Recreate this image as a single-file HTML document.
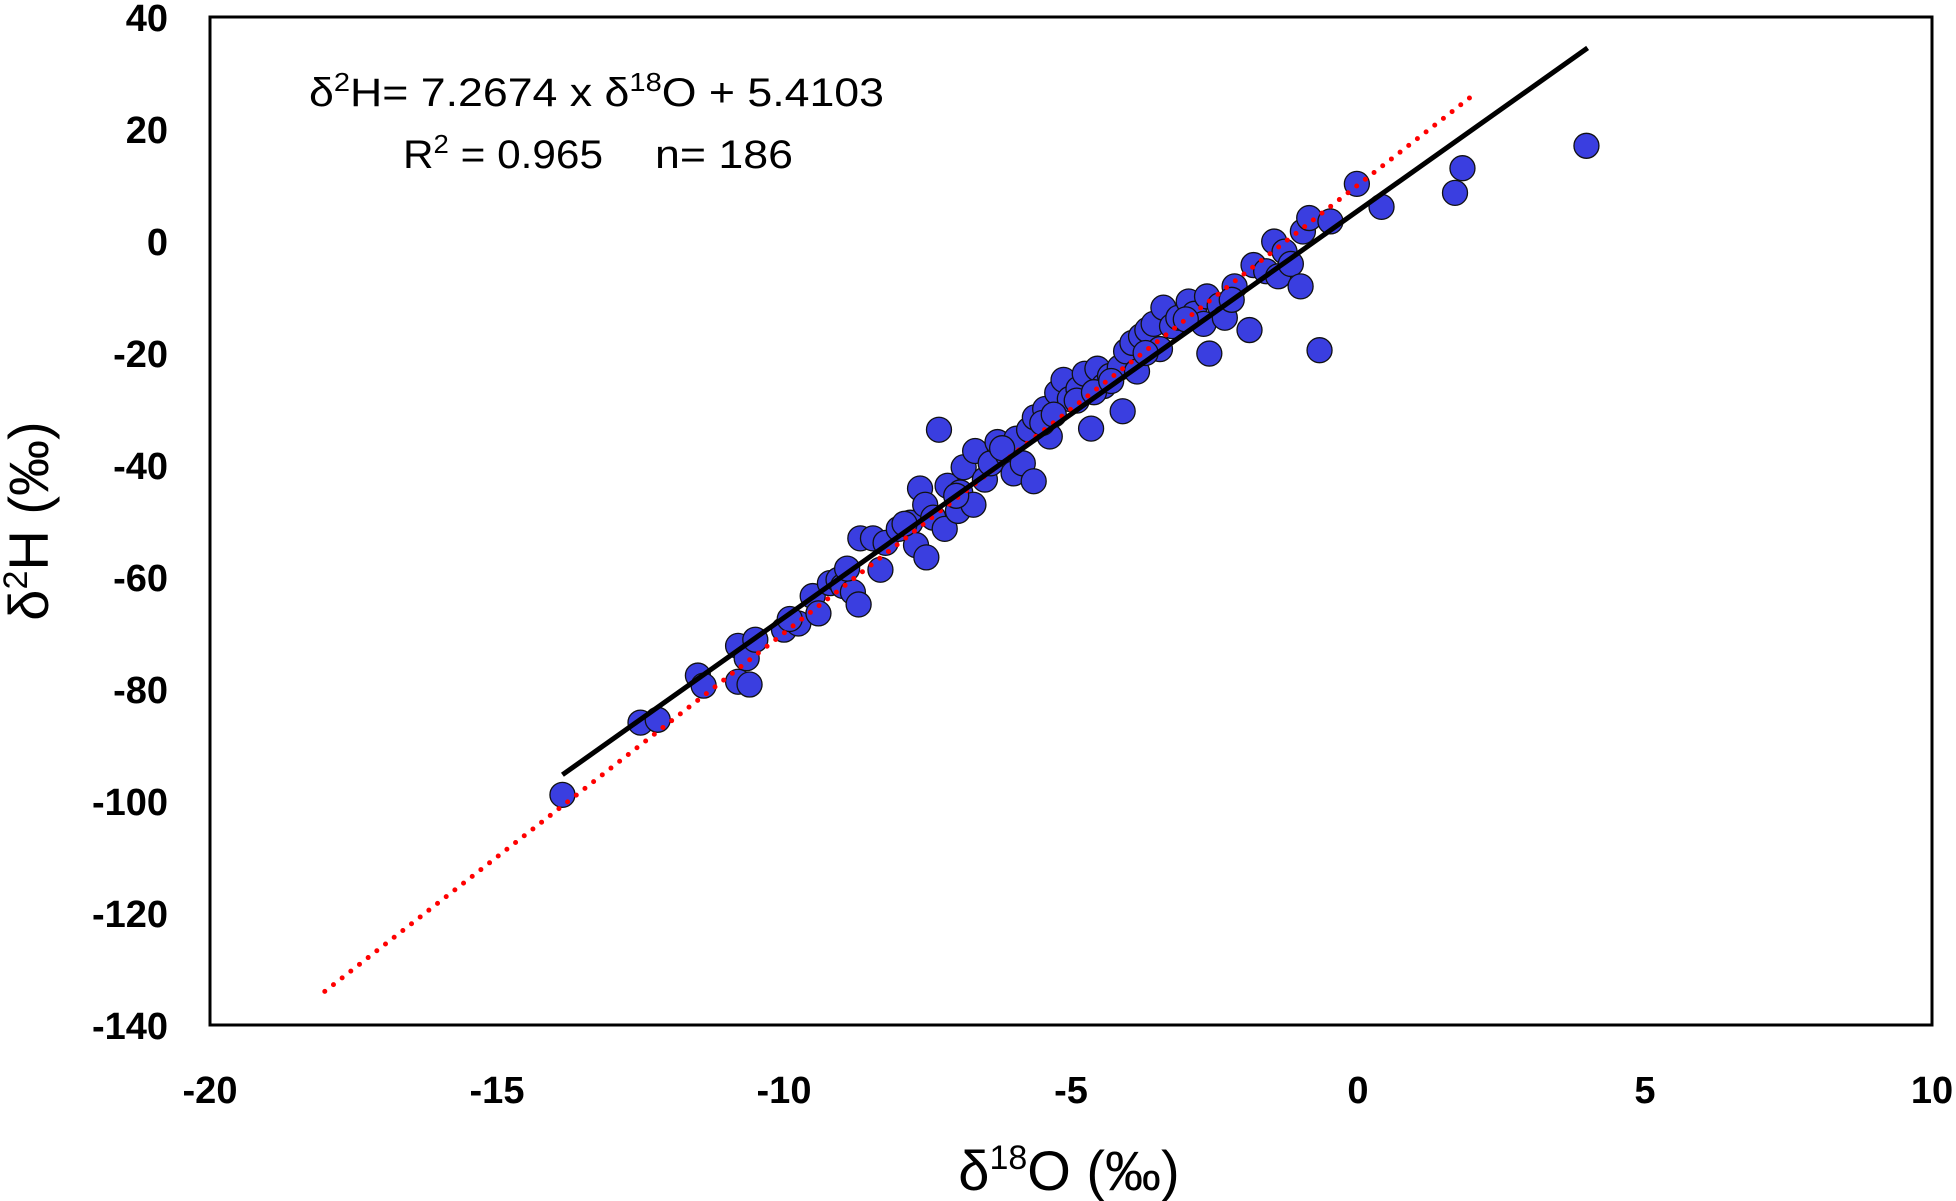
<!DOCTYPE html>
<html><head><meta charset="utf-8"><style>
html,body{margin:0;padding:0;background:#fff;}
svg{display:block;font-family:"Liberation Sans",sans-serif;}
</style></head><body>
<svg id="chart" width="1956" height="1201" viewBox="0 0 1956 1201" xmlns="http://www.w3.org/2000/svg">
<rect x="210" y="17" width="1722" height="1008" fill="#fff" stroke="#000" stroke-width="3"/>
<g id="ticks"></g>
<g id="lines"></g>
<g id="points"></g>
<text x="309" y="106" font-size="40" textLength="575" lengthAdjust="spacingAndGlyphs">δ<tspan font-size="26" dy="-15">2</tspan><tspan dy="15">H= 7.2674 x δ</tspan><tspan font-size="26" dy="-15">18</tspan><tspan dy="15">O + 5.4103</tspan></text>
<text x="403" y="168" font-size="40" textLength="200" lengthAdjust="spacingAndGlyphs">R<tspan font-size="26" dy="-15">2</tspan><tspan dy="15"> = 0.965</tspan></text>
<text x="655" y="168" font-size="40" textLength="138" lengthAdjust="spacingAndGlyphs">n= 186</text>
<text x="1069" y="1190" font-size="56" text-anchor="middle">δ<tspan font-size="34" dy="-21">18</tspan><tspan dy="21">O (‰)</tspan></text>
<text transform="translate(48,521) rotate(-90)" font-size="56" text-anchor="middle">δ<tspan font-size="34" dy="-21">2</tspan><tspan dy="21">H (‰)</tspan></text>
</svg>
<script>
const xTicks=[-20,-15,-10,-5,0,5,10];
const yTicks=[40,20,0,-20,-40,-60,-80,-100,-120,-140];
const d18O=[-13.86,-12.5,-12.2,-11.5,-11.4,-10.8,-10.8,-10.6,-10.65,-10.5,-10.0,-9.75,-9.5,-9.4,-9.2,-9.05,-8.97,-8.8,-8.7,-8.67,-8.45,-8.32,-8.23,-8.0,-7.8,-7.7,-7.63,-7.52,-7.54,-7.4,-7.3,-7.2,-7.15,-6.93,-6.87,-6.97,-6.7,-6.67,-6.5,-6.4,-6.28,-6.1,-6.0,-5.95,-5.84,-5.73,-5.65,-5.63,-5.45,-5.37,-5.24,-5.13,-5.02,-4.87,-4.76,-4.65,-4.54,-4.43,-4.32,-4.15,-4.1,-4.04,-3.93,-3.85,-3.78,-3.67,-3.56,-3.45,-3.39,-3.24,-3.13,-2.95,-2.85,-2.69,-2.63,-2.59,-2.41,-2.32,-2.15,-1.89,-1.82,-1.6,-1.46,-1.39,-1.28,-1.17,-1.0,-0.96,-0.85,-0.67,-0.48,-0.02,0.41,1.69,1.82,3.98,-9.9,-8.9,-7.9,-7.0,-6.2,-5.5,-5.3,-4.9,-4.6,-4.3,-3.7,-3.0,-2.2];
const d2H=[-98.9,-86,-85.5,-77.6,-79.4,-72.3,-78.7,-79.2,-74.5,-71.2,-69.4,-68.3,-63.4,-66.5,-61.1,-60.5,-61.6,-62.7,-64.9,-53.1,-53.1,-58.7,-53.9,-51.4,-50.3,-54.3,-44.2,-56.5,-47.1,-49.4,-33.7,-51.4,-43.7,-44.9,-40.4,-48.2,-47.1,-37.5,-42.6,-39.7,-35.9,-38.2,-41.5,-35.3,-39.7,-33.7,-42.9,-31.5,-30.0,-34.9,-27.1,-24.8,-28.2,-26.4,-23.7,-33.5,-22.8,-25.9,-24.1,-22.6,-30.4,-19.7,-18.2,-23.3,-17.0,-15.9,-14.8,-19.3,-11.9,-15.2,-13.7,-10.8,-13.0,-14.8,-9.9,-20.1,-11.5,-13.7,-8.1,-15.9,-4.3,-5.4,-0.1,-6.3,-1.9,-4.1,-8.1,1.7,4.1,-19.5,3.5,10.2,6.1,8.6,13.0,17.0,-67.5,-58.5,-50.5,-45.5,-37.0,-32.5,-31.0,-28.5,-27.0,-25.0,-20.0,-14.0,-10.5];
const regSlope=7.2674, regIntercept=5.4103, regRange=[-13.86,4.0];
const gmwlSlope=8, gmwlIntercept=10, gmwlRange=[-18,2];
const X0=210,X1=1932,Y0=1025,Y1=17;
const sx=v=>X0+(v+20)/30*(X1-X0);
const sy=v=>Y0-(v+140)/180*(Y0-Y1);
const NS="http://www.w3.org/2000/svg";
function mk(tag,attrs,parent){const e=document.createElementNS(NS,tag);for(const k in attrs)e.setAttribute(k,attrs[k]);parent.appendChild(e);return e;}
const tg=document.getElementById('ticks');
xTicks.forEach(t=>{const e=mk('text',{x:sx(t),y:1103,'font-size':38,'font-weight':'bold','text-anchor':'middle'},tg);e.textContent=t;

});
yTicks.forEach(t=>{const e=mk('text',{x:168,y:sy(t)+14,'font-size':38,'font-weight':'bold','text-anchor':'end'},tg);e.textContent=t;

});
const lg=document.getElementById('lines');
const gm=mk('line',{x1:sx(gmwlRange[0]),y1:sy(gmwlSlope*gmwlRange[0]+gmwlIntercept),x2:sx(gmwlRange[1]),y2:sy(gmwlSlope*gmwlRange[1]+gmwlIntercept),stroke:'#ff0000','stroke-width':5,'stroke-dasharray':'0 11','stroke-linecap':'round'},lg);


const pg=document.getElementById('points');
d18O.forEach((x,i)=>{const c=mk('circle',{cx:sx(x),cy:sy(d2H[i]),r:12.5,fill:'#3a3ee0',stroke:'#111','stroke-width':1.3},pg);

});
const rl=mk('line',{x1:sx(regRange[0]),y1:sy(regSlope*regRange[0]+regIntercept),x2:sx(regRange[1]),y2:sy(regSlope*regRange[1]+regIntercept),stroke:'#000','stroke-width':5},lg);


document.getElementById('chart').appendChild(lg);
</script>
</body></html>
